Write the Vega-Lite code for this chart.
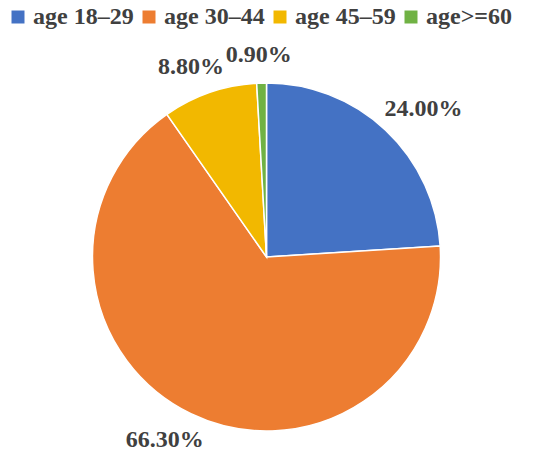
{
  "$schema": "https://vega.github.io/schema/vega-lite/v6.json",
  "width": 533,
  "height": 400,
  "autosize": "none",
  "padding": {"top": 57, "left": 0, "right": 0, "bottom": 0},
  "background": "white",
  "config": {
    "view": {"stroke": null},
    "font": "Liberation Serif"
  },
  "data": {
    "values": [
      {"age": "age 18–29", "share": 0.24},
      {"age": "age 30–44", "share": 0.663},
      {"age": "age 45–59", "share": 0.088},
      {"age": "age>=60", "share": 0.009}
    ]
  },
  "encoding": {
    "theta": {"field": "share", "type": "quantitative", "stack": true},
    "order": {"field": "age", "type": "ordinal", "sort": "ascending"}
  },
  "layer": [
    {
      "mark": {"type": "arc", "radius": 174, "stroke": "white", "strokeWidth": 1.5},
      "encoding": {
        "color": {
          "field": "age",
          "type": "nominal",
          "title": null,
          "scale": {
            "domain": ["age 18–29", "age 30–44", "age 45–59", "age>=60"],
            "range": ["#4472C4", "#ED7D31", "#F2B800", "#70B244"]
          },
          "legend": {
            "orient": "none",
            "direction": "horizontal",
            "legendX": 6,
            "legendY": -52,
            "padding": 0,
            "symbolType": "square",
            "symbolSize": 169,
            "symbolStrokeWidth": 0,
            "labelFont": "Liberation Serif",
            "labelFontSize": 24,
            "labelFontWeight": "bold",
            "labelColor": "#404040",
            "labelOffset": 3,
            "columnPadding": 3,
            "labelLimit": 200
          }
        }
      }
    },
    {
      "mark": {"type": "text", "radius": 200, "dx": 20, "dy": -2, "fontSize": 24, "fontWeight": "bold", "font": "Liberation Serif", "color": "#404040", "baseline": "middle"},
      "encoding": {
        "detail": {"field": "age", "type": "nominal"},
        "text": {
          "condition": {"test": "datum.age == 'age 18–29'", "field": "share", "type": "quantitative", "format": ".2%"},
          "value": ""
        }
      }
    },
    {
      "mark": {"type": "text", "radius": 200, "dx": -15, "dy": 3, "fontSize": 24, "fontWeight": "bold", "font": "Liberation Serif", "color": "#404040", "baseline": "middle"},
      "encoding": {
        "detail": {"field": "age", "type": "nominal"},
        "text": {
          "condition": {"test": "datum.age == 'age 30–44'", "field": "share", "type": "quantitative", "format": ".2%"},
          "value": ""
        }
      }
    },
    {
      "mark": {"type": "text", "radius": 200, "dx": -10, "dy": -1, "fontSize": 24, "fontWeight": "bold", "font": "Liberation Serif", "color": "#404040", "baseline": "middle"},
      "encoding": {
        "detail": {"field": "age", "type": "nominal"},
        "text": {
          "condition": {"test": "datum.age == 'age 45–59'", "field": "share", "type": "quantitative", "format": ".2%"},
          "value": ""
        }
      }
    },
    {
      "mark": {"type": "text", "radius": 200, "dx": -2, "dy": -2, "fontSize": 24, "fontWeight": "bold", "font": "Liberation Serif", "color": "#404040", "baseline": "middle"},
      "encoding": {
        "detail": {"field": "age", "type": "nominal"},
        "text": {
          "condition": {"test": "datum.age == 'age>=60'", "field": "share", "type": "quantitative", "format": ".2%"},
          "value": ""
        }
      }
    }
  ]
}
